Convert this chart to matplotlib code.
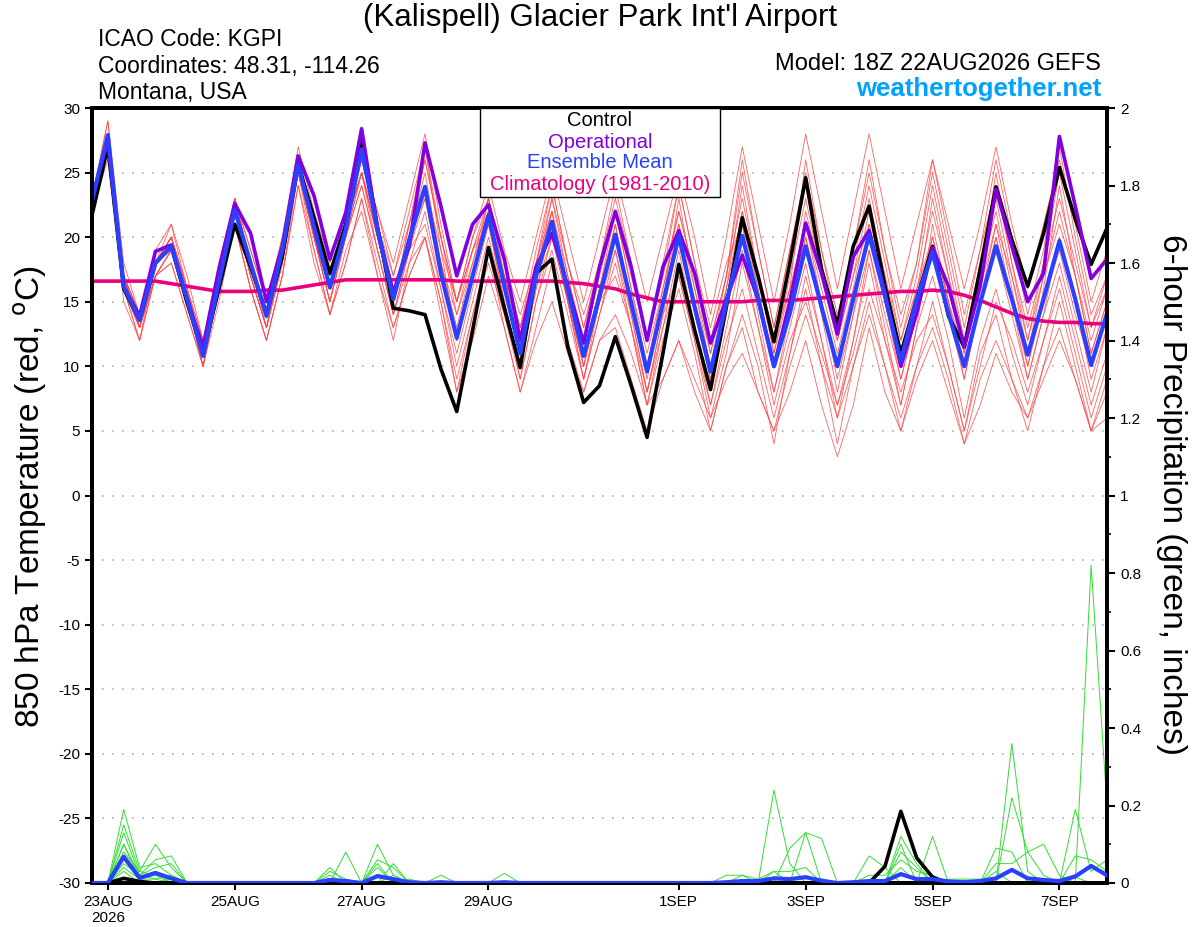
import pandas as pd
import matplotlib
matplotlib.use("Agg")
from matplotlib import pyplot as plt
from matplotlib.patches import Rectangle
from matplotlib.ticker import FixedLocator, MultipleLocator

plt.rcParams['font.family'] = ['Liberation Sans', 'DejaVu Sans']
plt.rcParams['axes.unicode_minus'] = False

# -----------------------------
# Data (6-hourly, 18Z 22AUG2026 .. 18Z 07SEP2026)
# -----------------------------
times = pd.date_range("2026-08-22 18:00", periods=65, freq="6h")

control = [21.7, 27.0, 16.0, 13.6, 18.0, 19.3, 14.9, 11.0, 16.0, 21.0,
           17.7, 14.1, 18.5, 25.7, 21.5, 17.2, 21.0, 27.8, 20.8, 14.5,
           14.3, 14.0, 9.8, 6.5, 12.8, 19.2, 14.5, 9.9, 17.2, 18.3,
           11.5, 7.2, 8.5, 12.3, 8.5, 4.5, 11.0, 17.9, 12.8, 8.2,
           14.6, 21.5, 17.0, 11.9, 18.0, 24.6, 17.5, 13.2, 19.3, 22.4,
           16.2, 11.0, 15.2, 19.3, 13.9, 11.5, 17.5, 23.9, 19.8, 16.2,
           20.3, 25.4, 21.4, 17.9, 20.7]

operational = [23.0, 27.5, 16.2, 13.9, 18.9, 19.4, 15.2, 11.5, 17.5, 22.6,
               20.3, 15.0, 19.3, 26.3, 23.2, 18.3, 21.9, 28.4, 20.6, 15.7,
               19.3, 27.3, 22.4, 17.0, 21.0, 22.5, 18.3, 12.0, 17.7, 20.3,
               16.2, 11.8, 17.7, 22.0, 17.7, 12.0, 17.7, 20.5, 17.2, 11.8,
               15.2, 18.6, 15.2, 10.0, 15.0, 21.1, 17.2, 12.5, 18.5, 20.5,
               15.7, 10.0, 14.1, 19.2, 16.2, 11.5, 16.2, 23.7, 19.3, 15.0,
               17.2, 27.8, 22.4, 16.8, 18.3]

ens_mean = [22.8, 27.9, 16.2, 13.6, 18.0, 19.3, 15.2, 10.8, 16.5, 22.1,
            18.0, 13.9, 19.0, 25.6, 20.8, 16.1, 20.6, 26.8, 20.6, 15.2,
            19.8, 23.9, 17.2, 12.2, 17.0, 21.7, 16.2, 11.0, 17.0, 21.2,
            15.9, 10.8, 15.4, 20.2, 14.9, 9.6, 14.9, 20.1, 14.6, 9.6,
            14.9, 20.1, 15.2, 10.0, 14.1, 19.3, 14.6, 10.0, 15.2, 20.2,
            15.4, 10.4, 15.2, 18.8, 14.1, 10.0, 14.9, 19.3, 15.2, 10.9,
            15.2, 19.7, 15.2, 10.1, 14.1]

climatology = [16.6, 16.6, 16.6, 16.6, 16.6, 16.4, 16.2, 16.0, 15.8, 15.8,
               15.8, 15.9, 15.9, 16.1, 16.3, 16.5, 16.7, 16.7, 16.7, 16.7,
               16.7, 16.7, 16.7, 16.6, 16.6, 16.6, 16.6, 16.6, 16.6, 16.6,
               16.5, 16.4, 16.2, 16.0, 15.6, 15.3, 15.0, 15.0, 15.0, 15.0,
               15.0, 15.0, 15.1, 15.1, 15.1, 15.2, 15.3, 15.4, 15.5, 15.6,
               15.7, 15.8, 15.8, 15.9, 15.8, 15.5, 15.1, 14.6, 14.1, 13.7,
               13.5, 13.4, 13.4, 13.3, 13.3]

# ensemble members, temperature (first value, then 16 days of 00Z/06Z/12Z/18Z)
mem01 = [23, 28, 17, 14, 18, 20, 16, 11, 17, 23, 18, 14, 19, 26, 21, 16, 21, 26, 21, 16, 20,
         25, 18, 13, 18, 23, 17, 12, 18, 22, 17, 12, 17, 22, 16, 11, 16, 21, 16, 11, 16,
         22, 17, 12, 16, 21, 16, 11, 16, 22, 17, 12, 16, 20, 15, 11, 16, 21, 17, 12, 17,
         21, 17, 12, 16]
mem02 = [22, 27, 16, 13, 17, 19, 15, 10, 16, 22, 17, 13, 18, 25, 20, 16, 20, 25, 19, 14, 18,
         22, 16, 10, 15, 20, 15, 9, 15, 19, 14, 9, 14, 18, 13, 8, 13, 17, 12, 7, 12,
         16, 11, 6, 11, 17, 12, 7, 12, 18, 12, 7, 13, 17, 12, 6, 12, 16, 11, 7, 12,
         17, 12, 7, 11]
mem03 = [23, 29, 18, 14, 19, 21, 17, 12, 18, 23, 19, 15, 20, 27, 22, 18, 22, 26, 22, 18, 23,
         28, 21, 15, 20, 24, 19, 15, 20, 25, 20, 15, 20, 25, 20, 15, 20, 25, 20, 14, 20,
         27, 21, 15, 21, 28, 22, 16, 22, 28, 22, 16, 21, 26, 21, 16, 21, 27, 21, 16, 21,
         26, 21, 15, 19]
mem04 = [22, 28, 16, 12, 18, 19, 15, 10, 16, 22, 17, 13, 19, 26, 20, 15, 20, 27, 20, 15, 21,
         27, 19, 12, 17, 22, 16, 11, 17, 21, 15, 10, 15, 21, 14, 8, 14, 20, 14, 9, 15,
         21, 14, 8, 13, 18, 12, 6, 12, 19, 14, 9, 14, 19, 14, 9, 15, 20, 15, 10, 15,
         20, 15, 10, 14]
mem05 = [22, 27, 16, 13, 17, 18, 14, 10, 15, 21, 16, 12, 17, 24, 19, 14, 18, 23, 18, 13, 17,
         20, 15, 9, 14, 19, 13, 8, 13, 18, 12, 8, 12, 14, 11, 7, 9, 12, 9, 6, 9,
         11, 8, 5, 8, 12, 7, 3, 7, 13, 8, 5, 9, 12, 8, 4, 7, 11, 8, 6, 9,
         12, 9, 5, 6]
mem06 = [23, 28, 17, 13, 18, 20, 16, 11, 17, 22, 18, 14, 19, 26, 21, 17, 21, 25, 20, 15, 21,
         24, 18, 14, 18, 22, 16, 11, 17, 22, 16, 10, 16, 20, 15, 9, 15, 23, 16, 10, 16,
         24, 17, 11, 17, 23, 17, 12, 17, 21, 16, 11, 15, 23, 17, 11, 17, 22, 16, 10, 16,
         24, 17, 11, 15]
mem07 = [22, 28, 17, 13, 17, 19, 15, 11, 16, 22, 18, 13, 18, 25, 20, 16, 20, 24, 19, 14, 19,
         21, 16, 11, 16, 21, 15, 10, 16, 20, 15, 10, 15, 19, 14, 8, 14, 17, 12, 6, 11,
         18, 13, 7, 12, 15, 11, 7, 11, 16, 12, 8, 12, 14, 10, 5, 10, 15, 12, 8, 12,
         16, 11, 6, 10]
mem08 = [23, 29, 17, 14, 18, 20, 16, 11, 17, 23, 19, 15, 20, 26, 21, 17, 22, 26, 22, 17, 22,
         27, 20, 14, 19, 23, 18, 13, 19, 24, 18, 13, 18, 23, 18, 12, 18, 24, 18, 12, 17,
         25, 19, 13, 19, 24, 18, 13, 19, 26, 19, 13, 18, 25, 19, 13, 19, 24, 18, 12, 18,
         25, 19, 13, 17]
mem09 = [22, 27, 15, 12, 17, 19, 15, 10, 16, 21, 16, 12, 17, 25, 19, 14, 19, 22, 17, 12, 18,
         20, 15, 8, 14, 18, 14, 9, 15, 20, 15, 9, 15, 17, 13, 7, 12, 16, 11, 5, 10,
         14, 10, 4, 11, 16, 10, 4, 10, 14, 10, 6, 10, 15, 10, 5, 11, 14, 9, 5, 10,
         15, 10, 5, 9]
mem10 = [23, 28, 17, 14, 18, 21, 16, 12, 17, 23, 18, 14, 18, 26, 21, 16, 21, 25, 21, 17, 21,
         26, 20, 15, 19, 22, 17, 13, 18, 23, 17, 11, 16, 22, 16, 10, 16, 22, 17, 11, 17,
         23, 17, 11, 16, 26, 19, 13, 18, 24, 18, 12, 17, 24, 18, 12, 18, 23, 17, 11, 17,
         22, 17, 11, 15]
mem11 = [22, 26, 16, 13, 17, 19, 15, 11, 16, 22, 17, 13, 18, 25, 20, 15, 20, 24, 19, 14, 19,
         23, 17, 12, 17, 21, 15, 10, 16, 21, 15, 9, 14, 19, 13, 7, 13, 19, 13, 7, 13,
         19, 13, 8, 14, 20, 14, 8, 14, 19, 13, 7, 13, 21, 15, 9, 15, 19, 14, 9, 14,
         18, 13, 8, 13]
mem12 = [23, 28, 17, 14, 18, 20, 16, 12, 17, 22, 17, 13, 18, 26, 20, 15, 21, 25, 20, 15, 20,
         24, 19, 15, 19, 21, 17, 13, 17, 23, 18, 14, 18, 22, 17, 12, 17, 24, 18, 13, 18,
         21, 16, 10, 14, 22, 17, 12, 17, 23, 17, 11, 16, 22, 17, 12, 17, 25, 18, 13, 18,
         23, 18, 13, 16]
mem13 = [22, 27, 16, 12, 17, 18, 14, 10, 16, 21, 16, 12, 17, 24, 18, 14, 18, 23, 17, 13, 17,
         20, 14, 8, 12, 17, 13, 8, 12, 15, 11, 8, 12, 13, 9, 5, 9, 12, 8, 5, 10,
         13, 8, 5, 10, 14, 10, 6, 10, 15, 10, 5, 10, 13, 9, 4, 9, 12, 9, 6, 10,
         13, 9, 5, 8]
mem14 = [23, 28, 17, 13, 18, 20, 15, 11, 16, 23, 18, 14, 19, 26, 21, 16, 21, 26, 21, 16, 20,
         26, 20, 15, 20, 23, 18, 14, 18, 24, 18, 13, 18, 24, 18, 12, 17, 22, 17, 12, 17,
         26, 19, 13, 19, 25, 19, 14, 19, 25, 19, 14, 18, 26, 20, 14, 19, 26, 20, 14, 19,
         27, 20, 14, 17]
mem15 = [23, 28, 16, 13, 18, 20, 15, 11, 17, 22, 17, 13, 19, 25, 20, 15, 20, 25, 20, 15, 20,
         23, 17, 12, 17, 22, 16, 11, 17, 21, 16, 11, 16, 21, 15, 10, 15, 20, 15, 10, 15,
         20, 15, 10, 15, 21, 15, 10, 15, 20, 15, 10, 15, 19, 14, 10, 15, 20, 15, 11, 15,
         19, 14, 10, 14]
mem16 = [22, 28, 17, 13, 18, 20, 16, 11, 16, 22, 18, 14, 19, 26, 20, 16, 21, 25, 20, 15, 19,
         24, 18, 12, 17, 23, 17, 11, 17, 22, 16, 11, 16, 20, 15, 10, 15, 21, 15, 9, 15,
         22, 16, 10, 15, 20, 15, 9, 14, 21, 15, 9, 14, 20, 15, 10, 15, 21, 15, 9, 14,
         20, 15, 9, 13]
members = [mem01, mem02, mem03, mem04, mem05, mem06, mem07, mem08,
           mem09, mem10, mem11, mem12, mem13, mem14, mem15, mem16]

# ensemble members, 6-hour precipitation (inches), sparse: index -> value
pcp01 = {2: 0.19, 3: 0.04, 4: 0.05, 5: 0.02, 18: 0.10, 19: 0.02, 43: 0.24, 44: 0.05,
         58: 0.36, 59: 0.03, 62: 0.07, 63: 0.06, 64: 0.03}
pcp02 = {2: 0.15, 3: 0.03, 4: 0.10, 5: 0.04, 16: 0.08, 45: 0.13, 46: 0.115, 51: 0.12,
         52: 0.05, 58: 0.22, 59: 0.08, 60: 0.02}
pcp03 = {2: 0.13, 3: 0.02, 4: 0.06, 5: 0.07, 15: 0.04, 19: 0.05, 44: 0.09, 45: 0.13,
         51: 0.10, 53: 0.12, 57: 0.09, 58: 0.08, 63: 0.82, 64: 0.20}
pcp04 = {2: 0.10, 3: 0.02, 4: 0.04, 5: 0.05, 18: 0.06, 19: 0.04, 22: 0.02, 40: 0.02,
         41: 0.02, 42: 0.01, 43: 0.03, 44: 0.03, 45: 0.04, 49: 0.07, 50: 0.04, 62: 0.19,
         63: 0.03, 64: 0.06}
pcp05 = {2: 0.10, 3: 0.01, 4: 0.03, 15: 0.03, 16: 0.01, 18: 0.05, 51: 0.08, 52: 0.04,
         57: 0.05, 58: 0.05, 59: 0.08, 60: 0.10, 61: 0.02}
pcp06 = {2: 0.08, 3: 0.03, 4: 0.02, 5: 0.01, 18: 0.04, 26: 0.025, 41: 0.02, 49: 0.02,
         50: 0.02, 51: 0.06, 52: 0.03, 53: 0.02, 57: 0.03, 62: 0.015}
pcp07 = {2: 0.06, 3: 0.01, 4: 0.02, 15: 0.02, 20: 0.01, 43: 0.03, 46: 0.01, 51: 0.04,
         54: 0.01, 55: 0.01, 56: 0.01, 61: 0.01}
pcp08 = {2: 0.05, 3: 0.02, 4: 0.01, 5: 0.02, 15: 0.01, 19: 0.02}
pcp09 = {2: 0.04, 3: 0.01, 4: 0.01}
pcp10 = {2: 0.03, 5: 0.01}
pcp_members = [pcp01, pcp02, pcp03, pcp04, pcp05, pcp06, pcp07, pcp08, pcp09, pcp10]

pcp_mean = {2: 0.068, 3: 0.013, 4: 0.026, 5: 0.012, 15: 0.008, 16: 0.005, 18: 0.018,
            19: 0.010, 20: 0.002, 22: 0.002, 26: 0.002, 40: 0.002, 41: 0.005, 42: 0.005,
            43: 0.012, 44: 0.010, 45: 0.015, 46: 0.006, 48: 0.002, 49: 0.005, 50: 0.005,
            51: 0.023, 52: 0.010, 53: 0.010, 54: 0.004, 55: 0.002, 56: 0.005, 57: 0.012,
            58: 0.034, 59: 0.012, 60: 0.008, 61: 0.005, 62: 0.017, 63: 0.044, 64: 0.020}
pcp_control = {2: 0.012, 3: 0.004, 50: 0.043, 51: 0.185, 52: 0.065, 53: 0.015}

tick_dates = pd.to_datetime(["2026-08-23", "2026-08-25", "2026-08-27", "2026-08-29",
                             "2026-09-01", "2026-09-03", "2026-09-05", "2026-09-07"])
tick_labels = ["23AUG\n2026", "25AUG", "27AUG", "29AUG", "1SEP", "3SEP", "5SEP", "7SEP"]

RED = "#ff4848"
GREEN = "#33dd33"
PURPLE = "#8000e0"
BLUE = "#2a40ff"
MAGENTA = "#e8007f"


def to_series(sparse):
    return [sparse.get(i, 0.0) for i in range(len(times))]


# -----------------------------
# Draw
# -----------------------------
def main():
    W, H = 1200, 927
    fig = plt.figure(figsize=(12, 9.27), dpi=100)
    ax = fig.add_axes([92 / W, 1 - 883 / H, (1107 - 92) / W, (883 - 108) / H])

    for m in members:
        ax.plot(times, m, color=RED, lw=0.6, alpha=0.85, zorder=2)
    ax.plot(times, climatology, color=MAGENTA, lw=2.6, zorder=3)
    ax.plot(times, control, color="black", lw=2.6, zorder=4)
    ax.plot(times, operational, color=PURPLE, lw=2.6, zorder=5)
    ax.plot(times, ens_mean, color=BLUE, lw=3.0, zorder=6)

    ax.set_ylim(-30, 30)
    ax.set_xlim(times[0], times[-1])
    ax.yaxis.set_major_locator(FixedLocator(range(-30, 31, 5)))
    ax.set_yticklabels([str(v) for v in range(-30, 31, 5)])
    for v in range(-25, 30, 5):
        ax.axhline(v, color="#b0b0b0", lw=1.2, ls=(0, (1, 5)), zorder=1)
    ax.set_xticks(tick_dates)
    ax.set_xticklabels(tick_labels)
    ax.tick_params(axis="both", labelsize=11, width=1.5, length=5, direction="out")
    for s in ax.spines.values():
        s.set_linewidth(2.8)

    ax2 = ax.twinx()
    for p in pcp_members:
        ax2.plot(times, to_series(p), color=GREEN, lw=0.7, zorder=2)
    ax2.plot(times, to_series(pcp_control), color="black", lw=2.6, zorder=3)
    ax2.plot(times, to_series(pcp_mean), color=BLUE, lw=3.0, zorder=4)
    ax2.set_ylim(0, 2)
    ax2.yaxis.set_major_locator(MultipleLocator(0.2))
    ax2.yaxis.set_minor_locator(MultipleLocator(0.1))
    ax2.set_yticks([i * 0.2 for i in range(11)])
    ax2.set_yticklabels(["0", "0.2", "0.4", "0.6", "0.8", "1", "1.2", "1.4", "1.6", "1.8", "2"])
    ax2.tick_params(axis="y", which="major", labelsize=11, width=1.5, length=6)
    ax2.tick_params(axis="y", which="minor", width=1.2, length=3)
    for s in ax2.spines.values():
        s.set_linewidth(2.8)

    # legend box
    box = Rectangle((480 / W, 1 - 197 / H), 240 / W, 89 / H, transform=fig.transFigure,
                    facecolor="white", edgecolor="black", lw=1.0, zorder=10, clip_on=False)
    ax2.add_patch(box)
    legend_items = [("Control", "black", 121), ("Operational", PURPLE, 142),
                    ("Ensemble Mean", BLUE, 163), ("Climatology (1981-2010)", MAGENTA, 185)]
    for label, color, y in legend_items:
        fig.text(600 / W, 1 - y / H, label, color=color, fontsize=14.5,
                 ha="center", va="center", zorder=11)

    # header texts
    fig.text(0.5, 1 - 18 / H, "(Kalispell) Glacier Park Int'l Airport",
             fontsize=22.5, ha="center", va="center")
    fig.text(98 / W, 1 - 40 / H, "ICAO Code: KGPI", fontsize=16.5, ha="left", va="center")
    fig.text(98 / W, 1 - 66 / H, "Coordinates: 48.31, -114.26", fontsize=16.5, ha="left", va="center")
    fig.text(98 / W, 1 - 92 / H, "Montana, USA", fontsize=16.5, ha="left", va="center")
    fig.text(1101 / W, 1 - 64 / H, "Model: 18Z 22AUG2026 GEFS", fontsize=17, ha="right", va="center")
    fig.text(1101 / W, 1 - 89 / H, "weathertogether.net", fontsize=18.5, fontweight="bold",
             color="#00a2ff", ha="right", va="center")

    fig.text(30 / W, 1 - 497 / H, "850 hPa Temperature (red, $^\\mathrm{o}$C)", fontsize=24,
             rotation=90, ha="center", va="center")
    fig.text(1172 / W, 1 - 495 / H, "6-hour Precipitation (green, inches)", fontsize=24,
             rotation=-90, ha="center", va="center")

    fig.savefig("out.png", dpi=100)


if __name__ == "__main__":
    main()
